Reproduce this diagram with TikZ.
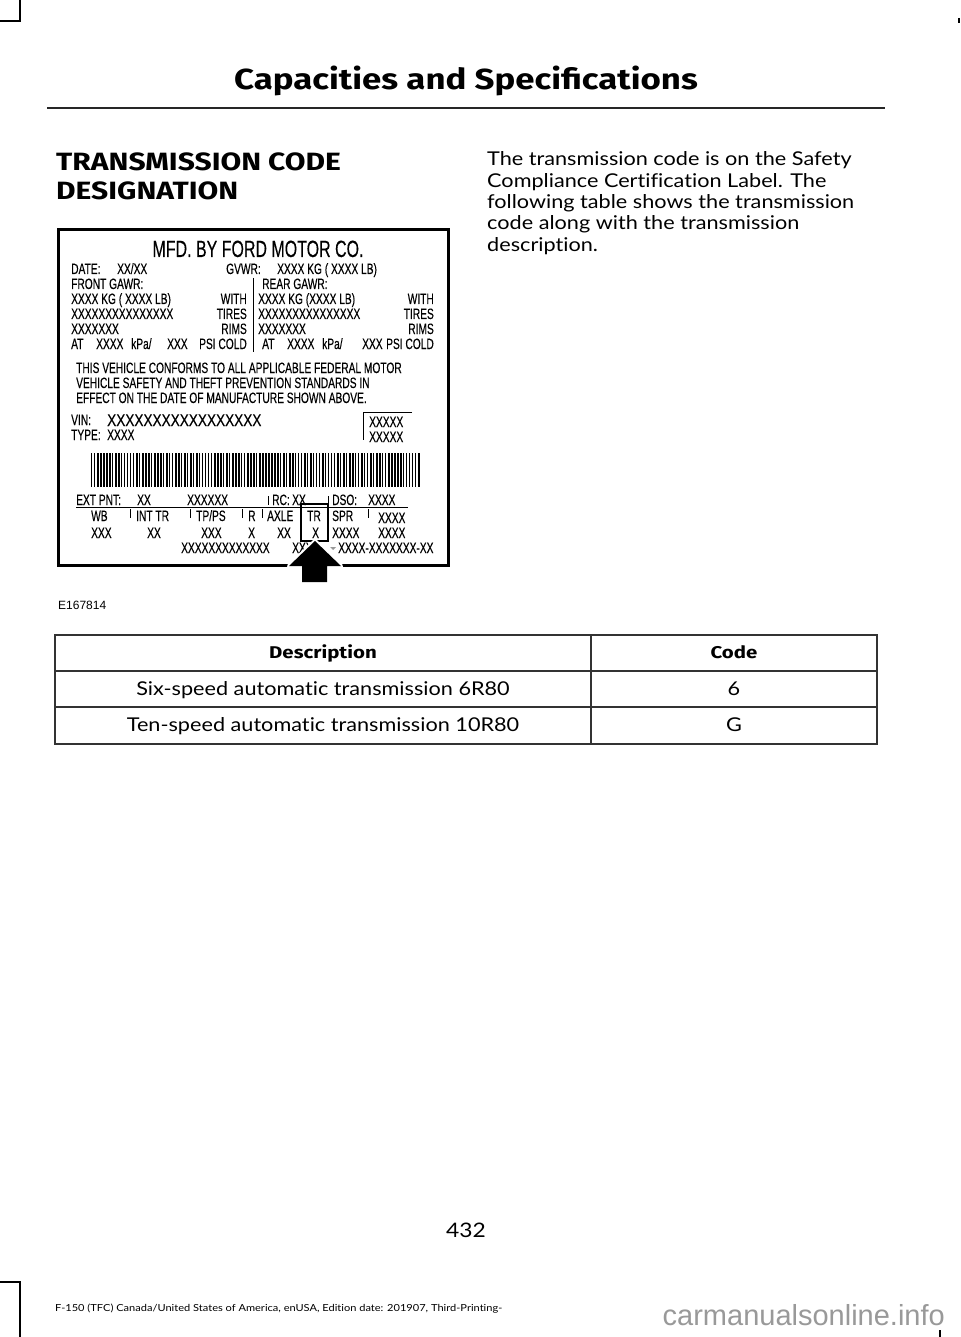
\documentclass[tikz,border=0pt]{standalone}
\usepackage{fontspec}
\setmainfont[FakeStretch = 1.14, Ligatures = NoCommon]{Lato}
\newfontfamily\headfont[FakeStretch = 1.2]{Fira Sans}
\newfontfamily\tagfont[FakeStretch = 0.68, FakeBold = 0.25]{Liberation Sans}
\newfontfamily\vinfont[FakeStretch = 0.8, FakeBold = 0.25]{Liberation Sans}
\newfontfamily\plainfont{Liberation Sans}
\usetikzlibrary{positioning}
\tikzset{txt/.style = {anchor = base west, inner sep = 0}}
\tikzset{tag/.style = {txt, font = \tagfont\fontsize{15}{15}\selectfont}}
\tikzset{tagr/.style = {tag, anchor = base east}}
\tikzset{tick/.style = {line width = 1}}
\tikzset{rule/.style = {line width = 1.4, black!80}}

\begin{document}
\begin{tikzpicture}[x = 1pt, y = -1pt]
    \useasboundingbox [fill = white] (0, 0) rectangle (960, 1337);

    % crop marks
    \draw [line width = 1.2] (0, 21) -- (20, 21) -- (20, 0);
    \draw [line width = 1.2] (0, 1282) -- (20, 1282) -- (20, 1337);
    \draw [line width = 1.2] (940, 1330) -- (940, 1337);
    \draw [line width = 1.2] (959, 18) -- (959, 23);

    \node [txt, anchor = base, font = \headfont\bfseries\fontsize{29}{29}\selectfont] (title) at (466, 90) {Capacities and Specifications};
    \draw [line width = 2, black!85] (47, 108) -- (885, 108);

    \node [txt, font = \headfont\bfseries\fontsize{25}{25}\selectfont] (head1) at (56, 171) {TRANSMISSION CODE};
    \node [txt, font = \headfont\bfseries\fontsize{25}{25}\selectfont] (head2) at (56, 200) {DESIGNATION};

    \foreach \t [count = \i] in {The transmission code is on the Safety,
                                 Compliance Certification Label. The,
                                 following table shows the transmission,
                                 code along with the transmission,
                                 description.}
      \node [txt, font = \fontsize{19}{19}\selectfont] (body\i) at (487, 166 + 21.3 * \i - 21.3) {\t};

    % label
    \draw [line width = 3] (58, 230) rectangle (448, 565);
    \node [tag, anchor = base, font = \tagfont\fontsize{23.5}{23.5}\selectfont] (mfd) at (258, 257) {MFD. BY FORD MOTOR CO.};

    \node [tag] (date) at (71, 274) {DATE:};
    \node [tag] (datev) at (117, 274) {XX/XX};
    \node [tag] (gvwr) at (226, 274) {GVWR:};
    \node [tag] (gvwrv) at (277, 274) {XXXX KG ( XXXX LB)};
    \node [tag] (front) at (71, 289) {FRONT GAWR:};
    \node [tag] (rear) at (262, 289) {REAR GAWR:};
    \node [tag] (fkg) at (71, 304) {XXXX KG ( XXXX LB)};
    \node [tag] (rkg) at (258, 304) {XXXX KG (XXXX LB)};
    \node [tag] (ftire) at (71, 319) {XXXXXXXXXXXXXXX};
    \node [tag] (rtire) at (258, 319) {XXXXXXXXXXXXXXX};
    \node [tag] (frim) at (71, 334) {XXXXXXX};
    \node [tag] (rrim) at (258, 334) {XXXXXXX};
    \foreach \w/\y in {WITH/304, TIRES/319, RIMS/334} {
      \node [tagr] (f\w) at (247, \y) {\w};
      \node [tagr] (r\w) at (434, \y) {\w};
    }
    \node [tag] (fat) at (71, 349) {AT};
    \node [tag] (fkpa) at (96, 349) {XXXX};
    \node [tag] (fkpu) at (131, 349) {kPa/};
    \node [tag] (fpsi) at (167, 349) {XXX};
    \node [tagr] (fcold) at (247, 349) {PSI COLD};
    \node [tag] (rat) at (262, 349) {AT};
    \node [tag] (rkpa) at (287, 349) {XXXX};
    \node [tag] (rkpu) at (322, 349) {kPa/};
    \node [tag] (rpsi) at (362, 349) {XXX};
    \node [tagr] (rcold) at (434, 349) {PSI COLD};
    \draw [tick] (253, 278) -- (253, 352);

    \node [tag] (conf1) at (76, 373) {THIS VEHICLE CONFORMS TO ALL APPLICABLE FEDERAL MOTOR};
    \node [tag] (conf2) at (76, 388) {VEHICLE SAFETY AND THEFT PREVENTION STANDARDS IN};
    \node [tag] (conf3) at (76, 403) {EFFECT ON THE DATE OF MANUFACTURE SHOWN ABOVE.};

    \node [tag] (vin) at (71, 425) {VIN:};
    \node [tag, font = \vinfont\fontsize{17}{17}\selectfont] (vinv) at (107, 426) {XXXXXXXXXXXXXXXXX};
    \node [tag] (type) at (71, 440) {TYPE:};
    \node [tag] (typev) at (107, 440) {XXXX};
    \draw [tick] (412, 412) -- (363, 412) -- (363, 440);
    \node [tag] (box1) at (369, 427) {XXXXX};
    \node [tag] (box2) at (369, 442) {XXXXX};

    % barcode
    \pgfmathsetseed{42}
    \foreach \b in {0, ..., 109} {
      \pgfmathsetmacro\bx{91 + 3 * \b}
      \pgfmathsetmacro\bw{1 + 0.7 * random(0, 1)}
      \fill (\bx, 453) rectangle ++(\bw, 34);
    }

    \node [tag] (ext) at (76, 505) {EXT PNT:};
    \node [tag] (extv) at (137, 505) {XX};
    \node [tag] (extw) at (187, 505) {XXXXXX};
    \node [tag] (rc) at (272, 505) {RC:};
    \node [tag] (rcv) at (292, 505) {XX};
    \node [tag] (dso) at (332, 505) {DSO:};
    \node [tag] (dsov) at (368, 505) {XXXX};
    \draw [tick] (76, 507) -- (408, 507);
    \foreach \x in {268, 328}
      \draw [tick] (\x, 496) -- (\x, 505);
    \foreach \x in {130, 190, 242, 262, 368}
      \draw [tick] (\x, 509) -- (\x, 518);

    \node [tag] (wb) at (91, 521) {WB};
    \node [tag] (inttr) at (136, 521) {INT TR};
    \node [tag] (tpps) at (196, 521) {TP/PS};
    \node [tag] (r) at (248, 521) {R};
    \node [tag] (axle) at (267, 521) {AXLE};
    \node [tag] (tr) at (307, 521) {TR};
    \node [tag] (spr) at (332, 521) {SPR};
    \node [tag] (sprw) at (378, 523) {XXXX};
    \node [tag] (wbv) at (91, 538) {XXX};
    \node [tag] (inttrv) at (147, 538) {XX};
    \node [tag] (tppsv) at (201, 538) {XXX};
    \node [tag] (rv) at (248, 538) {X};
    \node [tag] (axlev) at (277, 538) {XX};
    \node [tag] (trv) at (312, 538) {X};
    \node [tag] (sprv) at (332, 538) {XXXX};
    \node [tag] (sprx) at (378, 538) {XXXX};
    \node [tag] (long) at (181, 553) {XXXXXXXXXXXXX};
    \node [tag] (part) at (292, 553) {XXX};
    \node [tag] (code) at (338, 553) {XXXX-XXXXXXX-XX};
    \fill [black!40] (330, 547) -- (336, 547) -- (333, 550) -- cycle;

    % highlight and arrow
    \draw [line width = 2.5] (301, 504) rectangle (328, 541);
    \draw [white, line width = 4, line join = round]
      (315, 541) -- (289, 566) -- (302, 566) -- (302, 582) -- (327, 582) -- (327, 566) -- (341, 566) -- cycle;
    \fill (315, 541) -- (289, 566) -- (302, 566) -- (302, 582) -- (327, 582) -- (327, 566) -- (341, 566) -- cycle;

    \node [txt, font = \plainfont\fontsize{12}{12}\selectfont] (fig) at (58, 609) {E167814};

    % table
    \draw [rule] (55, 635) rectangle (877, 744);
    \draw [rule] (55, 671) -- (877, 671);
    \draw [rule] (55, 707) -- (877, 707);
    \draw [rule] (591, 635) -- (591, 744);
    \node [txt, anchor = base, font = \headfont\bfseries\fontsize{17}{17}\selectfont] (desc) at (323, 658) {Description};
    \node [txt, anchor = base, font = \headfont\bfseries\fontsize{17}{17}\selectfont] (codeh) at (734, 658) {Code};
    \node [txt, anchor = base, font = \fontsize{19}{19}\selectfont] (six) at (323, 695) {Six-speed automatic transmission 6R80};
    \node [txt, anchor = base, font = \fontsize{19}{19}\selectfont] (sixc) at (734, 695) {6};
    \node [txt, anchor = base, font = \fontsize{19}{19}\selectfont] (ten) at (323, 731) {Ten-speed automatic transmission 10R80};
    \node [txt, anchor = base, font = \fontsize{19}{19}\selectfont] (tenc) at (734, 731) {G};

    \node [txt, anchor = base, font = \fontsize{20}{20}\selectfont] (page) at (466, 1237) {432};
    \node [txt, font = \fontsize{9.7}{9.7}\selectfont] (foot) at (55, 1311) {F-150 (TFC) Canada/United States of America, enUSA, Edition date: 201907, Third-Printing-};
    \node [txt, anchor = base east, text = black!40, font = \plainfont\fontsize{29}{29}\selectfont] (mark) at (945, 1325) {carmanualsonline.info};
\end{tikzpicture}
\end{document}
